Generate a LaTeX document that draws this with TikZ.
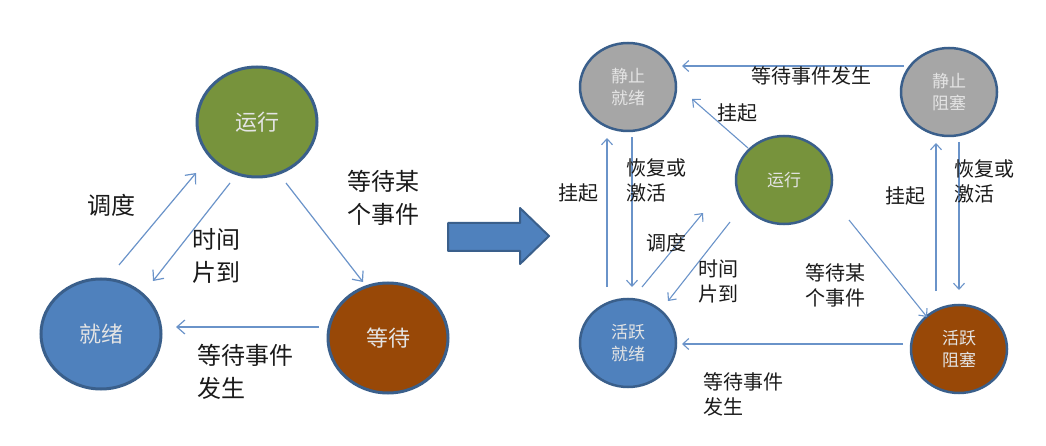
\documentclass[tikz,border=0pt]{standalone}
\usepackage{fontspec}
\setmainfont{Noto Sans CJK SC}
\usetikzlibrary{shapes.geometric,arrows.meta,calc}
\definecolor{bord}{HTML}{3A5F8B}
\definecolor{arrc}{HTML}{6A93C9}
\definecolor{grn}{HTML}{77933C}
\definecolor{blu}{HTML}{4F81BD}
\definecolor{brn}{HTML}{984807}
\definecolor{gry}{HTML}{A6A6A6}
\definecolor{ntext}{HTML}{E4E4E4}
\definecolor{ltext}{HTML}{1A1A1A}
\begin{document}
\begin{tikzpicture}[x=1pt,y=-1pt,
  bigst/.style={ellipse,draw=bord,line width=3pt,inner sep=0pt,minimum width=120pt,minimum height=110pt,text=ntext,font=\fontsize{22}{26}\selectfont},
  smst/.style={ellipse,draw=bord,line width=2.5pt,inner sep=0pt,minimum width=96pt,minimum height=88pt,text=ntext,align=center,font=\fontsize{17}{22}\selectfont},
  arrL/.style={draw=arrc,line width=1.2pt,-{Straight Barb[length=8pt,width=14pt,line width=1.2pt]}},
  arrR/.style={draw=arrc,line width=1.1pt,-{Straight Barb[length=6pt,width=11pt,line width=1.1pt]}},
  labL/.style={text=ltext,align=center,inner sep=0pt,font=\fontsize{24}{33}\selectfont},
  labR/.style={text=ltext,align=center,inner sep=0pt,font=\fontsize{20}{25}\selectfont}]
\useasboundingbox (0,0) rectangle (1046,446);
% left diagram
\node[bigst,fill=grn] (yx) at (257,122) {运行};
\node[bigst,fill=blu] (jx) at (101,334) {就绪};
\node[bigst,fill=brn] (dd) at (388,338) {等待};
\draw[arrL] ($(jx)+(18,-69)$) -- ($(yx)+(-61,51)$);
\draw[arrL] ($(yx)+(-27,61)$) -- ($(jx)+(52,-53)$);
\draw[arrL] ($(yx)+(29,61)$) -- ($(dd)+(-25,-56)$);
\draw[arrL] ($(dd)+(-69,-11)$) -- ($(jx)+(75,-7)$);
\node[labL] (l1) at (111,205) {调度};
\node[labL] (l2) at (216,256) {时间\\片到};
\node[labL] (l3) at (383,198) {等待某\\个事件};
\node[labL,align=left,anchor=west] (l4) at (197,372) {等待事件\\发生};
% big arrow
\draw[fill=blu,draw=bord,line width=2pt,line join=round] (448,223) -- (520,223) -- (520,208) -- (549,236) -- (520,264) -- (520,251) -- (448,251) -- cycle;
% right diagram
\node[smst,fill=gry] (jzjx) at (628,87) {静止\\就绪};
\node[smst,fill=gry] (jzzs) at (949,92) {静止\\阻塞};
\node[smst,fill=grn] (yx2) at (784,180) {运行};
\node[smst,fill=blu] (hyjx) at (628,343) {活跃\\就绪};
\node[smst,fill=brn] (hyzs) at (959,349) {活跃\\阻塞};
\draw[arrR] ($(jzzs)+(-45,-26)$) -- ($(jzjx)+(54,-21)$);
\draw[arrR] ($(yx2)+(-36,-32)$) -- ($(jzjx)+(64,12)$);
\draw[arrR] ($(hyjx)+(-21,-56)$) -- ($(jzjx)+(-21,51)$);
\draw[arrR] ($(jzjx)+(4,50)$) -- ($(hyjx)+(4,-56)$);
\draw[arrR] ($(hyjx)+(14,-56)$) -- ($(yx2)+(-81,33)$);
\draw[arrR] ($(yx2)+(-54,42)$) -- ($(hyjx)+(40,-42)$);
\draw[arrR] ($(yx2)+(65,40)$) -- ($(hyzs)+(-32,-32)$);
\draw[arrR] ($(hyzs)+(-56,-5)$) -- ($(hyjx)+(54,1)$);
\draw[arrR] ($(hyzs)+(-23,-58)$) -- ($(jzzs)+(-13,51)$);
\draw[arrR] ($(jzzs)+(10,50)$) -- ($(hyzs)+(0,-59)$);
\node[labR] (r1) at (811,76) {等待事件发生};
\node[labR] (r2) at (737,113) {挂起};
\node[labR,align=left] (r3) at (656,180) {恢复或\\激活};
\node[labR] (r4) at (578,193) {挂起};
\node[labR] (r5) at (905,196) {挂起};
\node[labR,align=left] (r6) at (984,181) {恢复或\\激活};
\node[labR] (r7) at (666,243) {调度};
\node[labR] (r8) at (718,281) {时间\\片到};
\node[labR] (r9) at (835,285) {等待某\\个事件};
\node[labR,align=left,anchor=west] (r10) at (703,394) {等待事件\\发生};
\end{tikzpicture}
\end{document}
